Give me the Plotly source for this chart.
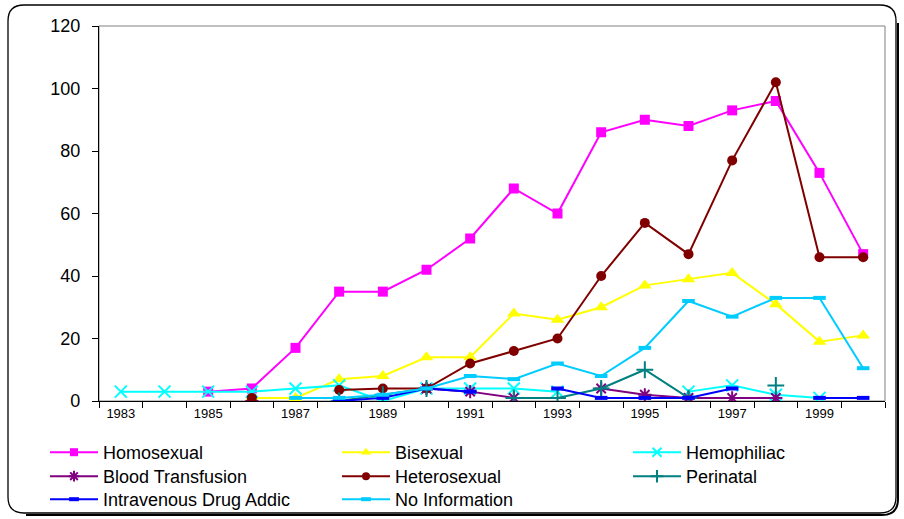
import plotly.graph_objects as go

# Annual cases by transmission category
years = list(range(1983, 2001))

homosexual = [None, None, 3, 4, 17, 35, 35, 42, 52, 68, 60, 86, 90, 88, 93, 96, 73, 47]
bisexual = [None, None, None, 1, 1, 7, 8, 14, 14, 28, 26, 30, 37, 39, 41, 31, 19, 21]
hemophiliac = [3, 3, 3, 3, 4, 5, 0, 4, 4, 4, 3, None, None, 3, 5, 2, 1, None]
blood_transfusion = [None, None, None, 0, None, None, None, 4, 3, 1, None, 4, 2, 1, 1, 1, None, None]
heterosexual = [None, None, None, 1, None, 3.5, 4, 4, 12, 16, 20, 40, 57, 47, 77, 102, 46, 46]
perinatal = [None, None, None, None, None, 0, 2, 4, None, 1, 1, 4, 10, 1, None, 5, None, None]
iv_drug = [None, None, None, None, None, 0, 1, 4, 3, None, 4, 1, 1, 1, 4, None, 1, 1]
no_information = [None, None, None, None, 1, 1, 2, 4, 8, 7, 12, 8, 17, 32, 27, 33, 33, 10.5]

x_tick_labels = [1983, 1985, 1987, 1989, 1991, 1993, 1995, 1997, 1999]

W, H = 904, 519
L, R, T, B = 99, 885, 26, 401  # plot area in pixels

FONT = "Liberation Sans, Arial, sans-serif"

series = [
    # name, values, colour, symbol, plot size, legend size, filled
    ("Homosexual", homosexual, "#FF00FF", "square", 10, 8, True),
    ("Bisexual", bisexual, "#FFFF00", "triangle-up", 12, 9, True),
    ("Hemophiliac", hemophiliac, "#00FFFF", "x-thin", 12, 9, False),
    ("Blood Transfusion", blood_transfusion, "#800080", "asterisk", 11, 9, False),
    ("Heterosexual", heterosexual, "#800000", "circle", 10, 8, True),
    ("Perinatal", perinatal, "#008080", "cross-thin", 12, 9, False),
    ("Intravenous Drug Addic", iv_drug, "#0000FF", "line-ew", 9, 7, False),
    ("No Information", no_information, "#00CCFF", "line-ew", 9, 7, False),
]

# legend grid: three columns, entries laid out row by row
col_x = [45, 337, 628]
row_top = [434, 458, 481]


def make_marker(symbol, size, color, filled):
    m = dict(symbol=symbol, size=size, color=color)
    if filled:
        m["line"] = dict(width=0)
    else:
        m["line"] = dict(width=2 if symbol != "line-ew" else 4, color=color)
    return m


fig = go.Figure()
legends = {}
for i, (name, vals, color, symbol, size, lsize, filled) in enumerate(series):
    leg = "legend" if i == 0 else f"legend{i + 1}"
    fig.add_trace(go.Scatter(
        x=years, y=vals, name=name, mode="lines+markers",
        line=dict(color=color, width=2),
        marker=make_marker(symbol, size, color, filled),
        connectgaps=False, showlegend=False, legendgroup=name,
    ))
    # legend key with a smaller symbol
    fig.add_trace(go.Scatter(
        x=[None], y=[None], name=name, mode="lines+markers",
        line=dict(color=color, width=2),
        marker=make_marker(symbol, lsize, color, filled),
        legend=leg, legendgroup=name, hoverinfo="skip",
    ))
    legends[leg] = dict(
        xref="container", yref="container", xanchor="left", yanchor="top",
        x=col_x[i % 3] / W, y=1 - row_top[i // 3] / H,
        orientation="v", bgcolor="rgba(0,0,0,0)", borderwidth=0,
        font=dict(family=FONT, size=18, color="#000000"),
        itemwidth=48, itemclick=False, itemdoubleclick=False,
    )


def px(x):
    return (x - L) / (R - L)


def py(y):
    return (B - y) / (B - T)


def rounded_path(x0, y0, x1, y1, r):
    return (
        f"M{px(x0 + r)},{py(y0)} L{px(x1 - r)},{py(y0)} "
        f"Q{px(x1)},{py(y0)} {px(x1)},{py(y0 + r)} "
        f"L{px(x1)},{py(y1 - r)} Q{px(x1)},{py(y1)} {px(x1 - r)},{py(y1)} "
        f"L{px(x0 + r)},{py(y1)} Q{px(x0)},{py(y1)} {px(x0)},{py(y1 - r)} "
        f"L{px(x0)},{py(y0 + r)} Q{px(x0)},{py(y0)} {px(x0 + r)},{py(y0)} Z"
    )


def shadow_path(x0, y0, x1, y1, r, d):
    x0, y0, x1, y1 = x0 + d, y0 + d, x1 + d, y1 + d
    return (
        f"M{px(x1)},{py(y0 + r)} "
        f"L{px(x1)},{py(y1 - r)} Q{px(x1)},{py(y1)} {px(x1 - r)},{py(y1)} "
        f"L{px(x0 + r)},{py(y1)}"
    )


ox0, oy0, ox1, oy1, rad = 8, 5, 896, 513, 16
shapes = [
    dict(type="path", xref="paper", yref="paper", path=shadow_path(ox0, oy0, ox1, oy1, rad, 2),
         line=dict(color="#000000", width=2), layer="below"),
    dict(type="path", xref="paper", yref="paper", path=rounded_path(ox0, oy0, ox1, oy1, rad),
         line=dict(color="#000000", width=1.3), layer="below"),
    dict(type="rect", xref="paper", yref="paper", x0=0, y0=0, x1=1, y1=1,
         line=dict(color="#808080", width=1), layer="below"),
]

fig.update_layout(
    width=W, height=H,
    margin=dict(l=L, r=W - R, t=T, b=H - B, autoexpand=False),
    paper_bgcolor="#FFFFFF", plot_bgcolor="#FFFFFF",
    font=dict(family=FONT, color="#000000"),
    showlegend=True,
    shapes=shapes,
    xaxis=dict(
        range=[1982.5, 2000.5], showgrid=False, zeroline=False,
        showline=True, linecolor="#000000", linewidth=1.3,
        tickmode="array", tickvals=x_tick_labels, ticktext=[str(v) for v in x_tick_labels],
        ticks="", tickfont=dict(size=13, family=FONT),
        minor=dict(tickmode="linear", tick0=1982.5, dtick=1, ticks="outside",
                   ticklen=6, tickcolor="#000000", tickwidth=1, showgrid=False),
        fixedrange=True,
    ),
    yaxis=dict(
        range=[0, 120], dtick=20, showgrid=False, zeroline=False,
        showline=True, linecolor="#000000", linewidth=1.3,
        ticks="outside", ticklen=6, tickcolor="#000000", tickwidth=1,
        tickfont=dict(size=18, family=FONT), ticklabelstandoff=8,
        fixedrange=True,
    ),
)
fig.update_layout(**legends)

fig.write_html("out.html")
